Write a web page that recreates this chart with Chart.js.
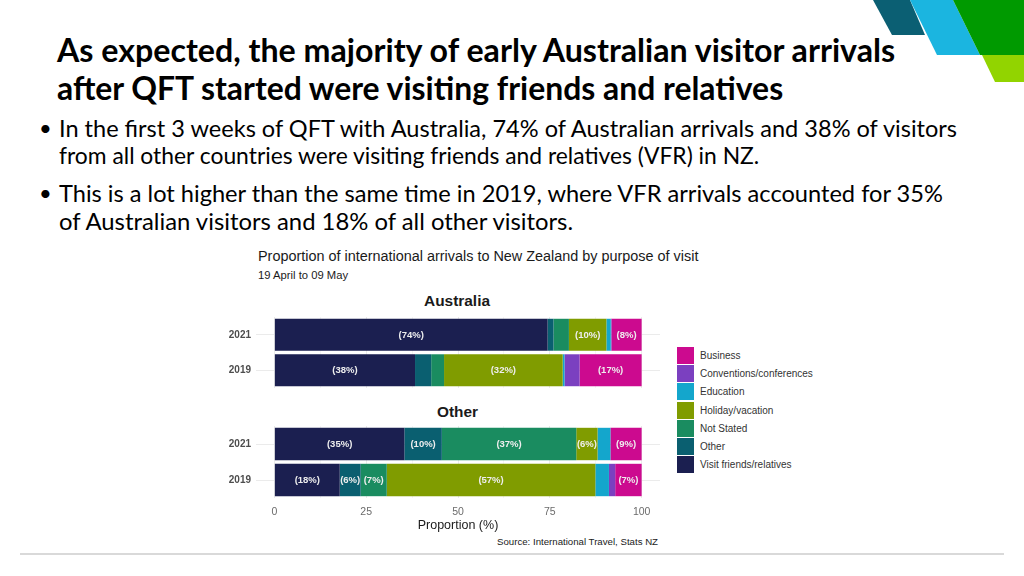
<!DOCTYPE html>
<html>
<head>
<meta charset="utf-8">
<script src="https://cdn.jsdelivr.net/npm/chart.js@4.4.1/dist/chart.umd.min.js"></script>
<style>
  html, body { margin: 0; padding: 0; }
  body { width: 1024px; height: 576px; overflow: hidden; background: #fff; position: relative; }
  .t { position: absolute; white-space: nowrap; line-height: 1.2; transform: translateY(-50%); }
  .head { font-family: Lato, "Open Sans", sans-serif; font-weight: 700; color: #000; font-size: 29px; }
  .body { font-family: Lato, "Open Sans", sans-serif; font-weight: 400; color: #000; font-size: 22px; }
  .ggt { font-family: "Liberation Sans", Arial, sans-serif; color: #1a1a1a; }
  canvas { position: absolute; }
  #legend { position: absolute; left: 677px; top: 346px; font-family: "Liberation Sans", Arial, sans-serif; font-size: 10px; color: #333; }
  .li { height: 18.3px; display: flex; align-items: center; }
  .sw { width: 17px; height: 17px; margin-right: 6px; flex: none; }
  #rule { position: absolute; left: 20px; top: 553px; width: 984px; height: 2px; background: #d9d9d9; }
</style>
</head>
<body>
<svg width="1024" height="90" style="position:absolute;left:0;top:0">
  <polygon points="873,0 910,0 925,35 892,35" fill="#0b5f73"/>
  <polygon points="910,0 953,0 980,55 937,55" fill="#1bb5e0"/>
  <polygon points="953,0 1024,0 1024,55 980,55" fill="#009a00"/>
  <polygon points="982,55 1024,55 1024,82 995,82" fill="#92d400"/>
</svg>

<div class="t head" style="left:57px;top:50px" data-w="838">As expected, the majority of early Australian visitor arrivals</div>
<div class="t head" style="left:57px;top:88px" data-w="726">after QFT started were visiting friends and relatives</div>
<div class="t body" style="left:39px;top:128px">•</div>
<div class="t body" style="left:59px;top:128px" data-w="898">In the first 3 weeks of QFT with Australia, 74% of Australian arrivals and 38% of visitors</div>
<div class="t body" style="left:59px;top:156px" data-w="700">from all other countries were visiting friends and relatives (VFR) in NZ.</div>
<div class="t body" style="left:39px;top:193px">•</div>
<div class="t body" style="left:59px;top:193px" data-w="884">This is a lot higher than the same time in 2019, where VFR arrivals accounted for 35%</div>
<div class="t body" style="left:59px;top:221px" data-w="514">of Australian visitors and 18% of all other visitors.</div>

<div class="t ggt" style="left:258px;top:257px;font-size:13.5px" data-w="440">Proportion of international arrivals to New Zealand by purpose of visit</div>
<div class="t ggt" style="left:258px;top:276px;font-size:11.5px" data-w="90">19 April to 09 May</div>
<div class="t ggt" id="f1" style="left:424px;top:301px;font-size:15px;font-weight:700" data-w="66">Australia</div>
<div class="t ggt" id="f2" style="left:437px;top:412px;font-size:15px;font-weight:700" data-w="41">Other</div>
<div class="t ggt" style="left:497px;top:542px;font-size:10px" data-w="161">Source: International Travel, Stats NZ</div>

<canvas id="cA" width="440" height="71" style="left:220px;top:317px"></canvas>
<canvas id="cB" width="440" height="120" style="left:220px;top:426px"></canvas>
<div id="legend"></div>
<div id="rule"></div>

<script>
// ---- data ----
const categories = ["2021", "2019"];
const purposes = ["Visit friends/relatives", "Other", "Not Stated", "Holiday/vacation", "Education", "Conventions/conferences", "Business"];
const purposeColors = ["#1b1f50", "#0a5f70", "#1a8c60", "#809c00", "#14a6cc", "#7b40c0", "#cc0a8f"];
// values per purpose (same order as purposes), in %
const australia2021 = [74.4, 1.6, 4.2, 10.2, 1.2, 0.2, 8.2];
const australia2019 = [38.3, 4.4, 3.5, 32.3, 0.5, 4.1, 16.9];
const other2021 = [35.4, 10.2, 36.6, 5.8, 3.5, 0.0, 8.5];
const other2019 = [17.8, 5.7, 7.1, 56.8, 3.7, 1.7, 7.2];
const gridValues = [0, 12.5, 25, 37.5, 50, 62.5, 75, 87.5, 100];
const xTickLabels = [0, 25, 50, 75, 100];
const labelThreshold = 5;

// ---- helpers ----
function buildDatasets(v2021, v2019) {
  return purposes.map((p, i) => ({
    label: p,
    data: [v2021[i], v2019[i]],
    backgroundColor: purposeColors[i],
    borderWidth: 0,
    barPercentage: 0.9,
    categoryPercentage: 1.0
  }));
}

const segLabels = {
  id: 'segLabels',
  afterDatasetsDraw(chart) {
    const ctx = chart.ctx;
    ctx.save();
    ctx.font = 'bold 9.5px "Liberation Sans", Arial, sans-serif';
    ctx.fillStyle = '#eeeeee';
    ctx.textAlign = 'center';
    ctx.textBaseline = 'middle';
    chart.data.datasets.forEach((ds, i) => {
      const meta = chart.getDatasetMeta(i);
      meta.data.forEach((el, j) => {
        const v = ds.data[j];
        if (v >= labelThreshold) {
          ctx.fillText('(' + Math.round(v) + '%)', (el.x + el.base) / 2, el.y + 0.5);
        }
      });
    });
    ctx.restore();
  }
};

function makeOptions(showX) {
  return {
    indexAxis: 'y',
    responsive: false,
    animation: false,
    devicePixelRatio: 1,
    layout: { padding: 0 },
    plugins: { legend: { display: false }, tooltip: { enabled: false } },
    scales: {
      x: {
        type: 'linear', min: -5, max: 105, stacked: true,
        afterBuildTicks: s => { s.ticks = gridValues.map(v => ({ value: v })); },
        afterFit: s => { s.height = showX ? 48 : 0; s.paddingLeft = 0; s.paddingRight = 0; },
        grid: {
          drawTicks: false,
          color: c => (c.tick && c.tick.value % 25 === 0) ? '#ebebeb' : '#f5f5f5'
        },
        border: { display: false },
        ticks: {
          display: showX, autoSkip: false, padding: 8, color: '#6b6b6b', maxRotation: 0,
          font: { family: '"Liberation Sans", Arial, sans-serif', size: 10.5 },
          callback: v => xTickLabels.includes(v) ? String(v) : ''
        },
        title: {
          display: showX, text: 'Proportion (%)', color: '#1a1a1a',
          font: { family: '"Liberation Sans", Arial, sans-serif', size: 12.5 },
          padding: { top: 0, bottom: 13 }
        }
      },
      y: {
        stacked: true,
        afterFit: s => { s.width = 36; s.paddingTop = 0; s.paddingBottom = 0; },
        grid: { color: '#ebebeb', drawTicks: false, offset: false },
        border: { display: false },
        ticks: {
          padding: 5, color: '#4d4d4d',
          font: { family: '"Liberation Sans", Arial, sans-serif', size: 10, weight: 'bold' }
        }
      }
    }
  };
}

new Chart(document.getElementById('cA'), {
  type: 'bar',
  data: { labels: categories, datasets: buildDatasets(australia2021, australia2019) },
  options: makeOptions(false),
  plugins: [segLabels]
});
new Chart(document.getElementById('cB'), {
  type: 'bar',
  data: { labels: categories, datasets: buildDatasets(other2021, other2019) },
  options: makeOptions(true),
  plugins: [segLabels]
});

// legend (reverse order, as in reference)
const legend = document.getElementById('legend');
for (let i = purposes.length - 1; i >= 0; i--) {
  const row = document.createElement('div');
  row.className = 'li';
  const sw = document.createElement('div');
  sw.className = 'sw';
  sw.style.background = purposeColors[i];
  const tx = document.createElement('span');
  tx.textContent = purposes[i];
  row.appendChild(sw); row.appendChild(tx);
  legend.appendChild(row);
}

// fit text widths to reference
function fitAll() {
  document.querySelectorAll('[data-w]').forEach(el => {
    const target = parseFloat(el.dataset.w);
    const fs = parseFloat(getComputedStyle(el).fontSize);
    const w = el.getBoundingClientRect().width;
    if (w > 0) el.style.fontSize = (fs * target / w).toFixed(2) + 'px';
  });
}
fitAll();
if (document.fonts && document.fonts.ready) document.fonts.ready.then(fitAll);
</script>
</body>
</html>
